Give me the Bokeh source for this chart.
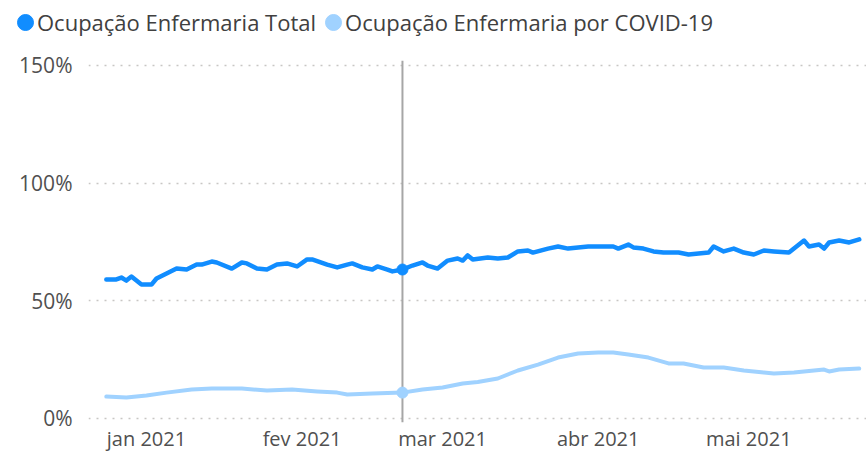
import pandas as pd
from bokeh.plotting import figure
from bokeh.models import (Range1d, FixedTicker, PrintfTickFormatter, Span,
                          Legend, LegendItem)
from bokeh.embed import file_html
from bokeh.resources import INLINE

# ---------------- data ----------------
series_names = ["Ocupação Enfermaria Total", "Ocupação Enfermaria por COVID-19"]
series_colors = ["#118DFF", "#A0D2FF"]

total_dates = [
    "2020-12-24", "2020-12-26", "2020-12-27", "2020-12-28", "2020-12-29", "2020-12-30",
    "2020-12-31", "2021-01-02", "2021-01-03", "2021-01-05", "2021-01-07", "2021-01-09",
    "2021-01-11", "2021-01-12", "2021-01-14", "2021-01-15", "2021-01-18", "2021-01-20",
    "2021-01-21", "2021-01-23", "2021-01-25", "2021-01-27", "2021-01-29", "2021-01-31",
    "2021-02-02", "2021-02-03", "2021-02-06", "2021-02-08", "2021-02-10", "2021-02-11",
    "2021-02-13", "2021-02-15", "2021-02-16", "2021-02-18", "2021-02-19", "2021-02-21",
    "2021-02-23", "2021-02-25", "2021-02-26", "2021-02-28", "2021-03-02", "2021-03-04",
    "2021-03-05", "2021-03-06", "2021-03-07", "2021-03-10", "2021-03-12", "2021-03-14",
    "2021-03-16", "2021-03-18", "2021-03-19", "2021-03-22", "2021-03-24", "2021-03-26",
    "2021-03-28", "2021-03-30", "2021-04-01", "2021-04-04", "2021-04-05", "2021-04-07",
    "2021-04-08", "2021-04-10", "2021-04-12", "2021-04-14", "2021-04-17", "2021-04-19",
    "2021-04-21", "2021-04-23", "2021-04-24", "2021-04-26", "2021-04-28", "2021-04-30",
    "2021-05-02", "2021-05-04", "2021-05-06", "2021-05-09", "2021-05-10", "2021-05-12",
    "2021-05-13", "2021-05-15", "2021-05-16", "2021-05-17", "2021-05-19", "2021-05-21",
    "2021-05-23",
]
total_values = [
    59.1, 59.1, 59.9, 58.6, 60.3, 58.6,
    56.9, 56.9, 59.5, 61.6, 63.7, 63.3,
    65.4, 65.4, 66.7, 66.3, 63.7, 66.3,
    65.9, 63.7, 63.3, 65.4, 65.9, 64.6,
    67.6, 67.6, 65.4, 64.2, 65.4, 65.9,
    64.2, 63.3, 64.6, 63.3, 62.5, 63.3,
    65.0, 66.3, 65.0, 63.7, 67.1, 68.0,
    67.1, 69.3, 67.6, 68.4, 68.0, 68.4,
    71.0, 71.4, 70.5, 72.2, 73.1, 72.2,
    72.7, 73.1, 73.1, 73.1, 72.2, 73.9,
    72.7, 72.2, 71.0, 70.5, 70.5, 69.7,
    70.1, 70.5, 73.1, 71.0, 72.2, 70.5,
    69.7, 71.4, 71.0, 70.5, 72.2, 75.6,
    73.1, 73.9, 72.2, 74.8, 75.6, 74.8,
    76.1,
]

covid_dates = [
    "2020-12-24", "2020-12-28", "2021-01-01", "2021-01-05", "2021-01-10", "2021-01-14",
    "2021-01-20", "2021-01-25", "2021-01-30", "2021-02-04", "2021-02-08", "2021-02-10",
    "2021-02-15", "2021-02-21", "2021-02-25", "2021-03-01", "2021-03-05", "2021-03-08",
    "2021-03-12", "2021-03-16", "2021-03-20", "2021-03-24", "2021-03-28", "2021-04-01",
    "2021-04-04", "2021-04-07", "2021-04-11", "2021-04-15", "2021-04-18", "2021-04-22",
    "2021-04-26", "2021-04-30", "2021-05-04", "2021-05-06", "2021-05-10", "2021-05-16",
    "2021-05-17", "2021-05-19", "2021-05-23",
]
covid_values = [
    9.3, 8.9, 9.8, 11.0, 12.3, 12.7,
    12.7, 11.9, 12.3, 11.5, 11.0, 10.2,
    10.6, 11.0, 12.3, 13.2, 14.9, 15.5,
    17.0, 20.4, 22.9, 25.9, 27.6, 28.0,
    28.0, 27.2, 25.9, 23.4, 23.4, 21.7,
    21.7, 20.4, 19.5, 19.1, 19.5, 20.8,
    20.0, 20.8, 21.2,
]

highlight_date = "2021-02-21"

month_ticks = ["2021-01-01", "2021-02-01", "2021-03-01", "2021-04-01", "2021-05-01"]
month_labels = ["jan 2021", "fev 2021", "mar 2021", "abr 2021", "mai 2021"]
y_ticks = [0, 50, 100, 150]

# ---------------- styling ----------------
FONT = "Open Sans"
TEXT_COLOR = "#505050"
W = 866
LEG_H = 44

td = pd.to_datetime(total_dates)
cd = pd.to_datetime(covid_dates)
hd = pd.Timestamp(highlight_date)

# ---------------- legend strip (separate root so frames are not aligned) ----------------
lg = figure(width=W, height=LEG_H, x_range=Range1d(0, 1), y_range=Range1d(0, 1),
            x_axis_location=None, y_axis_location=None,
            output_backend="svg", toolbar_location=None,
            min_border_left=15, min_border_right=0, min_border_top=7,
            min_border_bottom=0)
lg.grid.visible = False
lg.outline_line_color = None
lg.background_fill_color = "white"
lg.border_fill_color = "white"
sw = [lg.ellipse([-5], [-5], width=16, height=16, width_units="screen",
                 height_units="screen", color=c) for c in series_colors]
legend = Legend(items=[LegendItem(label=n, renderers=[r])
                       for n, r in zip(series_names, sw)],
                orientation="horizontal", location="top_left",
                glyph_width=20, glyph_height=20, label_standoff=2, spacing=7,
                padding=0, margin=0, border_line_alpha=0,
                background_fill_alpha=0,
                label_text_font=FONT, label_text_font_size="22px",
                label_text_color="#404040")
lg.add_layout(legend, "center")

# ---------------- main chart ----------------
x_start = pd.Timestamp("2021-01-01") - pd.Timedelta(days=11.55)
x_end = x_start + pd.Timedelta(days=155)

p = figure(frame_width=778, frame_height=362, x_axis_type="datetime",
           x_range=Range1d(x_start, x_end), y_range=Range1d(-1.70, 152.12),
           output_backend="svg", toolbar_location=None,
           min_border_left=88, min_border_right=0, min_border_top=60 - LEG_H,
           min_border_bottom=32)
p.outline_line_color = None
p.background_fill_color = "white"
p.border_fill_color = "white"

p.xgrid.visible = False
p.ygrid.ticker = FixedTicker(ticks=y_ticks)
p.ygrid.grid_line_color = "#C8C6C4"
p.ygrid.grid_line_dash = "2 6"
p.ygrid.grid_line_width = 1.5

p.yaxis.ticker = FixedTicker(ticks=y_ticks)
p.yaxis.formatter = PrintfTickFormatter(format="%d%%")
p.yaxis.axis_line_color = None
p.yaxis.major_tick_line_color = None
p.yaxis.minor_tick_line_color = None
p.yaxis.major_tick_out = 0
p.yaxis.major_label_standoff = 16
p.yaxis.major_label_text_font = FONT
p.yaxis.major_label_text_font_size = "21px"
p.yaxis.major_label_text_color = TEXT_COLOR

tick_ms = [pd.Timestamp(t).value // 10**6 for t in month_ticks]
p.xaxis.ticker = FixedTicker(ticks=tick_ms)
p.xaxis.major_label_overrides = {float(t): lab for t, lab in zip(tick_ms, month_labels)}
p.xaxis.axis_line_color = None
p.xaxis.major_tick_line_color = None
p.xaxis.minor_tick_line_color = None
p.xaxis.major_tick_out = 0
p.xaxis.major_tick_in = 0
p.xaxis.major_label_standoff = 2
p.xaxis.major_label_text_font = FONT
p.xaxis.major_label_text_font_size = "20px"
p.xaxis.major_label_text_color = TEXT_COLOR

p.add_layout(Span(location=hd, dimension="height", line_color="#A6A6A6",
                  line_width=2, level="underlay"))

p.line(cd, covid_values, line_color=series_colors[1], line_width=4,
       line_join="round", line_cap="round")
p.line(td, total_values, line_color=series_colors[0], line_width=4.5,
       line_join="round", line_cap="round")

hv_total = total_values[total_dates.index(highlight_date)]
hv_covid = covid_values[covid_dates.index(highlight_date)]
p.scatter([hd], [hv_total], size=11, color=series_colors[0])
p.scatter([hd], [hv_covid], size=11, color=series_colors[1])

open("out.html", "w").write(file_html([lg, p], INLINE))
